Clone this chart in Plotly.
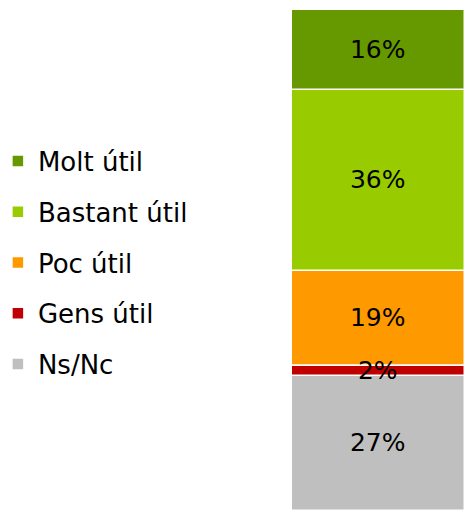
import plotly.graph_objects as go
from itertools import accumulate

categories = ["Ns/Nc", "Gens útil", "Poc útil", "Bastant útil", "Molt útil"]
values = [27, 2, 19, 36, 16]
colors = ["#BFBFBF", "#C00000", "#FF9900", "#99CC00", "#669900"]
legend_rank = [5, 4, 3, 2, 1]
bar_label = [""]

# stacked bases (bottom of each segment)
bases = [0] + list(accumulate(values))[:-1]
# draw the thin "Gens útil" segment last so its label sits on top
draw_order = [0, 2, 3, 4, 1]

fig = go.Figure()
for i in draw_order:
    name, v, c, r, b = categories[i], values[i], colors[i], legend_rank[i], bases[i]
    fig.add_trace(go.Bar(
        x=bar_label, y=[v], base=[b], name=name, legendgroup=name, legendrank=r,
        marker=dict(color=c, line=dict(color="white", width=1.5)),
        text=[f"{v}%"], textposition="inside", insidetextanchor="middle",
        constraintext="none", textangle=0,
        textfont=dict(family="DejaVu Sans", size=25, color="black"),
    ))

fig.update_layout(
    barmode="overlay", bargap=0,
    width=465, height=511,
    margin=dict(l=292, r=0, t=10, b=0, autoexpand=False),
    paper_bgcolor="white", plot_bgcolor="white",
    xaxis=dict(visible=False),
    yaxis=dict(visible=False, range=[0, 100]),
    showlegend=True,
    legend=dict(
        traceorder="grouped", tracegroupgap=14,
        x=-1.70, xanchor="left", y=0.495, yanchor="middle",
        font=dict(family="DejaVu Sans", size=26, color="black"),
        itemwidth=30,
    ),
)

fig.write_html(
    "out.html",
    config={"displayModeBar": False},
    post_script="document.body.style.margin='0';document.body.style.overflow='hidden';",
)
